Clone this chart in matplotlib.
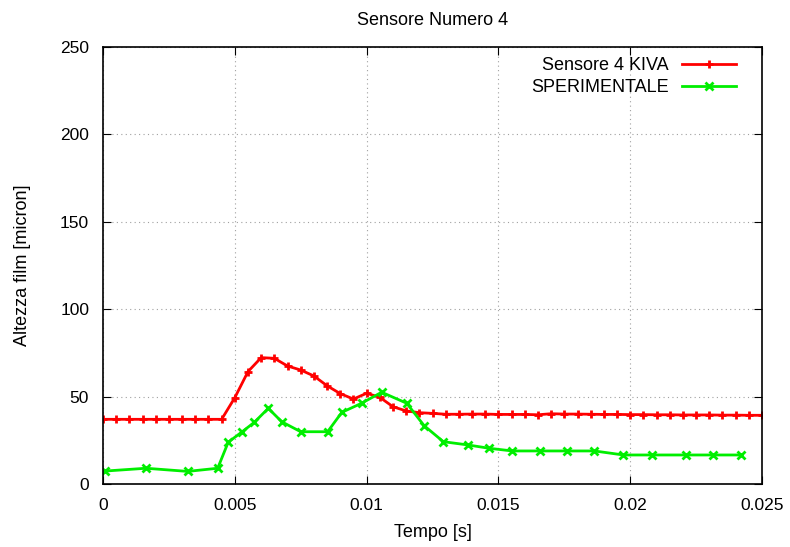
import numpy as np
import matplotlib
matplotlib.use('Agg')
import matplotlib.pyplot as plt

plt.rcParams['font.family'] = ['Liberation Sans', 'DejaVu Sans']

# Sensore 4 KIVA: sampled every 0.0005 s
kiva_t = np.arange(51) * 0.0005
kiva_y = [37, 37, 37, 37, 37, 37, 37, 37, 37, 37,
          49.4, 64.3, 72.3, 71.9, 67.5, 65.2, 61.8, 56.2, 51.7, 48.6,
          51.9, 49.6, 44.2, 41.8, 40.8, 40.4, 39.9, 39.9, 40.0, 40.0,
          39.8, 39.8, 39.8, 39.6, 40.2, 40.0, 40.0, 39.9, 39.8, 39.8,
          39.7, 39.7, 39.6, 39.6, 39.5, 39.5, 39.5, 39.4, 39.4, 39.3, 39.3]

# Dati sperimentali
sper_t = [0.00008, 0.00163, 0.00321, 0.00435, 0.00475, 0.00528, 0.00574,
          0.00627, 0.00678, 0.0075, 0.00852, 0.00906, 0.00981, 0.01057,
          0.01152, 0.01218, 0.01291, 0.01386, 0.01466, 0.01553, 0.01658,
          0.01759, 0.01864, 0.01974, 0.02084, 0.0221, 0.02315, 0.0242]
sper_y = [7.4, 9.0, 7.2, 9.0, 23.9, 29.9, 35.3, 43.3, 35.6, 29.9, 29.9,
          41.0, 46.2, 52.5, 46.2, 33.4, 24.2, 22.3, 20.4, 18.9, 18.9,
          18.9, 18.9, 16.6, 16.6, 16.6, 16.6, 16.6]

x_ticks = [0, 0.005, 0.01, 0.015, 0.02, 0.025]
x_labels = ['0', '0.005', '0.01', '0.015', '0.02', '0.025']
y_ticks = [0, 50, 100, 150, 200, 250]

fig = plt.figure(figsize=(7.9, 5.47), dpi=100)
ax = fig.add_axes([0.1304, 0.1152, 0.8342, 0.7988])

ax.plot(kiva_t, kiva_y, color='#ff0000', linewidth=2.0, marker='+',
        markersize=6, markeredgewidth=2.0, label='Sensore 4 KIVA')
ax.plot(sper_t, sper_y, color='#00ee00', linewidth=2.0, marker='x',
        markersize=6, markeredgewidth=2.0, label='SPERIMENTALE')

ax.set_xlim(0, 0.025)
ax.set_ylim(0, 250)
ax.set_xticks(x_ticks)
ax.set_xticklabels(x_labels)
ax.set_yticks(y_ticks)
ax.tick_params(direction='in', top=True, right=True, length=6,
               labelsize=12.5, pad=10)
ax.grid(color='#a0a0a0', linestyle=(0, (1, 3)), linewidth=0.8)
for s in ax.spines.values():
    s.set_linewidth(1.2)

ax.set_title('Sensore Numero 4', fontsize=13, pad=16)
ax.set_xlabel('Tempo [s]', fontsize=13, labelpad=8)
ax.set_ylabel('Altezza film [micron]', fontsize=13, labelpad=21)

ax.legend(loc='upper right', bbox_to_anchor=(0.972, 0.993), frameon=False,
          markerfirst=False, fontsize=13, handlelength=3.0,
          borderaxespad=0.0, labelspacing=0.25, handletextpad=0.75,
          numpoints=1)

fig.savefig('out.png', dpi=100)
